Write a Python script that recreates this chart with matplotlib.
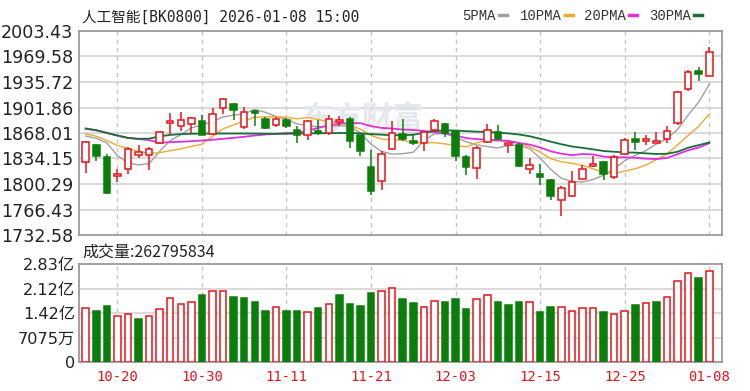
import matplotlib
matplotlib.use("Agg")
import matplotlib.pyplot as plt
from matplotlib.lines import Line2D

plt.rcParams['font.family'] = ['DejaVu Sans', 'Noto Sans CJK SC']

# ---- data (price in points, volume in 亿) ----
opens = [1829.4, 1851.9, 1836.6, 1810.5, 1819.8, 1838.3, 1838.3, 1854.1, 1881.5, 1877.9,
         1880.6, 1884.5, 1867.0, 1901.3, 1906.6, 1876.2, 1897.5, 1886.8, 1879.2, 1885.0,
         1872.6, 1866.0, 1870.4, 1868.3, 1882.3, 1886.8, 1864.7, 1822.8, 1804.3, 1846.2,
         1866.9, 1857.2, 1854.1, 1871.7, 1880.1, 1870.4, 1836.6, 1822.0, 1855.4, 1869.1,
         1851.5, 1851.5, 1820.0, 1813.2, 1805.6, 1779.2, 1784.5, 1807.5, 1824.2, 1829.4,
         1810.2, 1839.6, 1859.4, 1856.8, 1855.0, 1860.7, 1881.5, 1926.4, 1950.6, 1944.0]
highs = [1857.0, 1854.0, 1839.6, 1819.8, 1848.8, 1851.5, 1849.3, 1870.4, 1894.7, 1895.5,
         1888.9, 1891.5, 1901.3, 1914.9, 1907.5, 1902.6, 1898.5, 1889.8, 1889.4, 1887.6,
         1877.0, 1885.8, 1885.8, 1892.4, 1891.1, 1889.4, 1866.0, 1844.9, 1844.0, 1883.6,
         1886.8, 1866.0, 1870.4, 1886.8, 1881.5, 1872.6, 1838.3, 1850.6, 1880.6, 1879.2,
         1855.4, 1854.1, 1835.2, 1826.3, 1807.5, 1797.7, 1817.5, 1825.0, 1837.4, 1830.8,
         1838.3, 1861.6, 1869.1, 1866.0, 1869.1, 1877.9, 1923.2, 1951.0, 1955.5, 1981.9]
lows = [1814.5, 1830.8, 1787.0, 1803.0, 1813.2, 1835.2, 1818.5, 1852.8, 1866.0, 1870.4,
        1868.3, 1865.0, 1864.7, 1893.4, 1885.8, 1873.6, 1877.9, 1873.0, 1876.2, 1874.9,
        1855.0, 1858.5, 1866.0, 1866.0, 1877.9, 1848.4, 1837.4, 1785.4, 1792.0, 1845.3,
        1857.2, 1851.5, 1844.0, 1869.1, 1863.0, 1830.8, 1811.9, 1806.6, 1855.0, 1858.5,
        1840.8, 1823.4, 1813.2, 1798.6, 1779.2, 1758.1, 1782.4, 1806.6, 1823.4, 1805.6,
        1807.5, 1838.3, 1845.3, 1851.5, 1854.1, 1854.1, 1879.2, 1923.2, 1936.4, 1943.1]
closes = [1855.8, 1837.4, 1788.1, 1813.5, 1846.2, 1842.6, 1847.1, 1869.1, 1884.5, 1885.8,
          1887.6, 1866.0, 1893.4, 1913.6, 1898.1, 1896.5, 1894.5, 1874.9, 1886.8, 1877.9,
          1866.0, 1883.6, 1867.4, 1886.8, 1885.8, 1857.2, 1844.0, 1791.1, 1839.6, 1868.3,
          1859.4, 1854.1, 1869.1, 1883.6, 1868.3, 1837.4, 1823.4, 1848.4, 1872.6, 1859.4,
          1854.1, 1824.2, 1825.5, 1810.2, 1784.5, 1795.6, 1803.0, 1820.7, 1827.3, 1813.2,
          1836.6, 1858.5, 1855.8, 1859.4, 1857.2, 1870.4, 1921.9, 1949.6, 1946.2, 1976.1]

ma5 = [1864.0, 1861.0, 1855.0, 1838.0, 1828.2, 1825.6, 1827.5, 1843.7, 1857.9, 1865.8,
       1874.8, 1878.6, 1883.5, 1889.3, 1891.7, 1893.5, 1899.2, 1895.5, 1890.2, 1886.1,
       1880.0, 1877.8, 1876.3, 1876.3, 1877.9, 1876.2, 1868.2, 1853.0, 1843.5, 1840.0,
       1840.5, 1842.5, 1858.1, 1866.9, 1866.9, 1862.5, 1856.4, 1852.2, 1850.0, 1848.2,
       1851.6, 1851.7, 1847.2, 1834.7, 1819.7, 1808.0, 1803.8, 1802.8, 1806.2, 1812.0,
       1820.2, 1831.3, 1838.3, 1844.7, 1853.5, 1860.3, 1872.9, 1891.7, 1909.1, 1932.8]
ma10 = [1866.9, 1863.8, 1858.1, 1851.5, 1847.5, 1843.5, 1840.5, 1842.0, 1844.5, 1847.0,
        1850.2, 1853.1, 1863.6, 1873.6, 1878.8, 1884.2, 1888.9, 1889.5, 1889.7, 1888.9,
        1886.8, 1888.5, 1885.9, 1883.3, 1882.0, 1878.1, 1873.0, 1864.7, 1859.9, 1859.0,
        1858.3, 1855.4, 1855.5, 1855.2, 1853.5, 1851.5, 1849.4, 1855.2, 1858.5, 1857.6,
        1857.0, 1854.1, 1849.7, 1842.4, 1834.0, 1829.8, 1827.8, 1825.0, 1820.5, 1815.8,
        1814.1, 1817.5, 1820.5, 1825.5, 1832.7, 1840.2, 1852.1, 1865.0, 1876.9, 1893.2]
ma20 = [1873.6, 1871.5, 1868.0, 1864.5, 1861.4, 1860.0, 1858.6, 1855.0, 1855.9, 1856.3,
        1857.2, 1858.1, 1859.0, 1860.3, 1861.6, 1863.0, 1864.7, 1866.0, 1867.0, 1868.0,
        1868.5, 1870.8, 1874.8, 1878.4, 1880.4, 1881.1, 1881.0, 1877.1, 1874.8, 1874.0,
        1872.5, 1872.0, 1870.7, 1869.2, 1867.7, 1864.8, 1861.2, 1859.9, 1859.2, 1858.3,
        1857.7, 1854.7, 1852.6, 1848.8, 1843.7, 1840.6, 1838.6, 1840.1, 1839.5, 1836.7,
        1835.6, 1835.8, 1835.1, 1833.9, 1833.4, 1835.0, 1839.9, 1845.0, 1848.7, 1854.5]
ma30 = [1874.0, 1871.8, 1868.2, 1864.7, 1861.6, 1860.3, 1860.5, 1863.5, 1865.5, 1866.5,
        1867.0, 1867.2, 1867.3, 1867.3, 1867.3, 1867.3, 1867.2, 1867.0, 1866.9, 1867.0,
        1867.3, 1867.5, 1867.6, 1867.8, 1868.0, 1868.0, 1867.5, 1866.5, 1865.8, 1865.0,
        1865.1, 1865.7, 1868.4, 1870.7, 1871.4, 1871.3, 1870.5, 1869.8, 1869.4, 1868.5,
        1867.4, 1866.0, 1863.7, 1860.3, 1856.5, 1853.1, 1850.1, 1848.3, 1846.3, 1844.1,
        1843.1, 1842.3, 1841.9, 1841.0, 1840.1, 1840.5, 1843.1, 1848.4, 1851.9, 1855.5]

volume = [1.55, 1.47, 1.61, 1.32, 1.39, 1.23, 1.32, 1.52, 1.84, 1.68,
          1.72, 1.93, 2.05, 2.05, 1.89, 1.85, 1.72, 1.47, 1.60, 1.47,
          1.47, 1.43, 1.56, 1.68, 1.93, 1.68, 1.61, 2.00, 2.05, 2.13,
          1.81, 1.69, 1.60, 1.76, 1.72, 1.81, 1.52, 1.81, 1.93, 1.72,
          1.64, 1.72, 1.72, 1.43, 1.60, 1.60, 1.47, 1.56, 1.56, 1.43,
          1.40, 1.47, 1.64, 1.69, 1.72, 1.89, 2.33, 2.58, 2.42, 2.628]
vol_up = [1, 0, 0, 1, 1, 0, 1, 1, 1, 1, 1, 0, 1, 1, 0, 0, 0, 0, 1, 0,
          0, 1, 0, 1, 0, 0, 0, 0, 1, 1, 0, 0, 1, 1, 0, 0, 0, 1, 1, 0,
          0, 0, 1, 0, 0, 1, 1, 1, 1, 0, 1, 1, 0, 1, 0, 1, 1, 1, 0, 1]

date_pos = [3, 11, 19, 27, 35, 43, 51, 59]
date_labels = ['10-20', '10-30', '11-11', '11-21', '12-03', '12-15', '12-25', '01-08']

price_ticks = [1732.58, 1766.43, 1800.29, 1834.15, 1868.01, 1901.86, 1935.72, 1969.58, 2003.43]
price_labels = ['1732.58', '1766.43', '1800.29', '1834.15', '1868.01', '1901.86', '1935.72',
                '1969.58', '2003.43']
vol_ticks = [0, 0.7075, 1.415, 2.1225, 2.83]
vol_labels = ['0', '7075万', '1.42亿', '2.12亿', '2.83亿']

RED = '#e8141b'
GREEN = '#0a7d0a'
GRID = '#d0d0d0'
FRAME = '#9a9a9a'


def style_axis(ax):
    for s in ax.spines.values():
        s.set_color(FRAME)
        s.set_linewidth(1.3)
    ax.tick_params(length=0)
    for p in date_pos:
        ax.axvline(p, color='#c4c4c4', lw=1, ls=(0, (3, 3)), zorder=0)
    ax.set_xlim(-0.63, 60.2)


def draw_candles(ax):
    for i in range(len(opens)):
        up = closes[i] >= opens[i]
        col = RED if up else GREEN
        ax.vlines(i, lows[i], highs[i], color=col, lw=1.1, zorder=3)
        bottom = min(opens[i], closes[i])
        h = max(abs(closes[i] - opens[i]), 0.6)
        ax.bar(i, h, bottom=bottom, width=0.62, color='white' if up else col,
               edgecolor=col, linewidth=1.1, zorder=4)


fig = plt.figure(figsize=(7.5, 3.91), dpi=100)
ax1 = fig.add_axes([79 / 750, 1 - 235 / 391, 643 / 750, 204 / 391])
ax2 = fig.add_axes([79 / 750, 1 - 362 / 391, 643 / 750, 98 / 391])

# price panel
style_axis(ax1)
ax1.set_ylim(1732.58, 2003.43)
ax1.set_yticks(price_ticks)
ax1.set_yticklabels(price_labels, fontsize=12.6, color='#222222')
ax1.tick_params(axis='y', pad=4)
ax1.set_xticks([])
for t in price_ticks[1:-1]:
    ax1.axhline(t, color=GRID, lw=1.1, zorder=0)
ax1.text(0.44, 0.57, '东方财富', transform=ax1.transAxes, fontsize=22, color='#e4e7ee',
         ha='center', va='center', fontweight='bold', zorder=1, family=['Noto Sans CJK SC'])

x = list(range(len(closes)))
ax1.plot(x, ma5, color='#a0a0a0', lw=1.0, zorder=2)
ax1.plot(x, ma10, color='#f0a830', lw=1.0, zorder=2)
ax1.plot(x, ma20, color='#e030e0', lw=1.3, zorder=2)
ax1.plot(x, ma30, color='#17703a', lw=1.3, zorder=2)
draw_candles(ax1)

# volume panel
style_axis(ax2)
ax2.set_ylim(0, 2.83)
ax2.set_yticks(vol_ticks)
ax2.set_yticklabels(vol_labels, fontsize=11.6, color='#222222')
ax2.tick_params(axis='y', pad=3)
for t in vol_ticks[1:-1]:
    ax2.axhline(t, color=GRID, lw=1.1, zorder=0)
for i, v in enumerate(volume):
    col = RED if vol_up[i] else GREEN
    ax2.bar(i, v, width=0.62, color='white' if vol_up[i] else col,
            edgecolor=col, linewidth=1.1, zorder=3)
ax2.set_xticks(date_pos)
ax2.set_xticklabels(date_labels, fontsize=10, color=RED, family=['DejaVu Sans Mono'])
ax2.tick_params(axis='x', pad=6)

# header texts
fig.text(82 / 750, 1 - 17 / 391, '人工智能[BK0800] 2026-01-08 15:00', fontsize=10.5,
         color='#222222', va='center', family=['DejaVu Sans Mono', 'Noto Sans CJK SC'])
fig.text(82 / 750, 1 - 252 / 391, '成交量:262795834', fontsize=11.5, color='#222222',
         va='center', family=['Noto Sans CJK SC'])

legend_items = [('5PMA', '#a0a0a0', 462), ('10PMA', '#f0a830', 520),
                ('20PMA', '#e030e0', 584), ('30PMA', '#17703a', 649)]
for name, col, px in legend_items:
    t = fig.text(px / 750, 1 - 15.5 / 391, name, fontsize=10, color='#333333', va='center',
                 family=['Liberation Mono'])
    w = len(name) * 8.4
    fig.add_artist(Line2D([(px + w + 3) / 750, (px + w + 11) / 750],
                          [1 - 15 / 391, 1 - 15 / 391], color=col, lw=2.5,
                          transform=fig.transFigure))

fig.savefig('out.png', dpi=100)
